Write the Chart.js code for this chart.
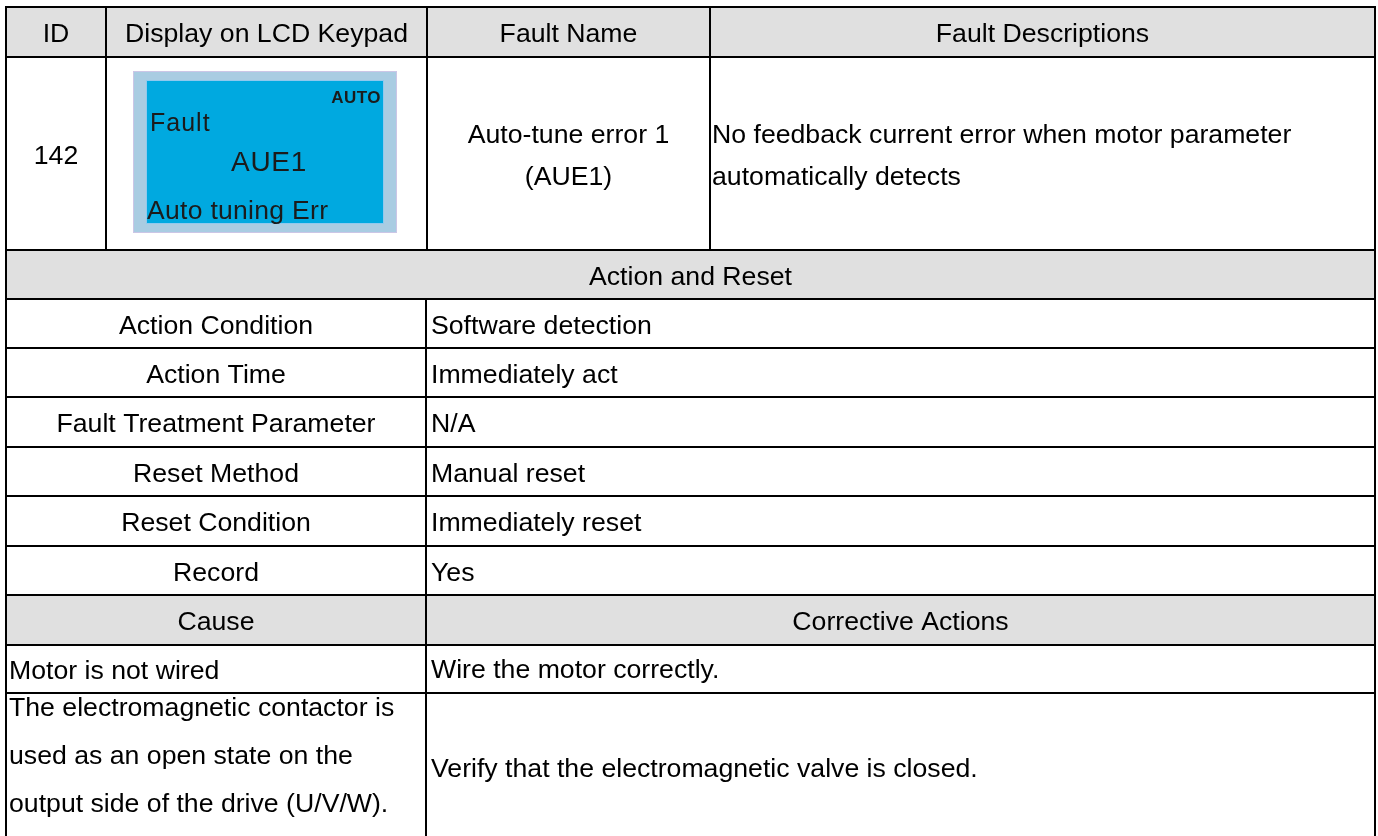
<!DOCTYPE html>
<html>
<head>
<meta charset="utf-8">
<title>AUE1 fault table</title>
<script src="https://cdn.jsdelivr.net/npm/chart.js@4"></script>
<style>
  html, body { margin: 0; padding: 0; background: #ffffff; }
  #wrap { width: 1378px; height: 836px; overflow: hidden; }
</style>
</head>
<body>
<div id="wrap"><canvas id="faultTable" width="1378" height="836"></canvas></div>
<script>
// Table content
const headers = ['ID', 'Display on LCD Keypad', 'Fault Name', 'Fault Descriptions'];
const faultId = '142';
const lcdLines = ['AUTO', 'Fault', 'AUE1', 'Auto tuning Err'];
const faultName = ['Auto-tune error 1', '(AUE1)'];
const faultDesc = ['No feedback current error when motor parameter', 'automatically detects'];
const sectionTitle = 'Action and Reset';
const actionLabels = ['Action Condition', 'Action Time', 'Fault Treatment Parameter', 'Reset Method', 'Reset Condition', 'Record'];
const actionValues = ['Software detection', 'Immediately act', 'N/A', 'Manual reset', 'Immediately reset', 'Yes'];
const causeHeaders = ['Cause', 'Corrective Actions'];
const causes = [
    ['Motor is not wired'],
    ['The electromagnetic contactor is', 'used as an open state on the', 'output side of the drive (U/V/W).']
];
const corrective = ['Wire the motor correctly.', 'Verify that the electromagnetic valve is closed.'];

// Layout (pixel grid of the page, mapped through the chart scales)
const topCols = [6, 106, 427, 710, 1375];
const lowCols = [6, 426, 1375];
const rowEdges = [7, 57, 250, 299, 348, 397, 447, 496, 546, 595, 645, 693, 842];
const lcdBox = { outer: [133, 71, 397, 233], inner: [146, 80, 384, 224] };

const FONT = '"Liberation Sans", Arial, Helvetica, sans-serif';
const GREY = '#e0e0e0';

const tablePlugin = {
    id: 'tableCells',
    afterDraw(chart) {
        const ctx = chart.ctx;
        const sx = chart.scales.x, sy = chart.scales.y;
        const X = v => sx.getPixelForValue(v);
        const Y = v => sy.getPixelForValue(v);
        const L = topCols[0], R = topCols[topCols.length - 1];
        const bottom = rowEdges[rowEdges.length - 1];

        // grey header bands
        ctx.fillStyle = GREY;
        [0, 2, 9].forEach(r => {
            ctx.fillRect(X(L), Y(rowEdges[r]), X(R) - X(L), Y(rowEdges[r + 1]) - Y(rowEdges[r]));
        });

        // LCD picture
        const o = lcdBox.outer, i = lcdBox.inner;
        ctx.fillStyle = '#a9cce2';
        ctx.fillRect(X(o[0]), Y(o[1]), X(o[2]) - X(o[0]), Y(o[3]) - Y(o[1]));
        ctx.strokeStyle = '#cbc6e6';
        ctx.lineWidth = 1;
        ctx.strokeRect(X(o[0]) + 0.5, Y(o[1]) + 0.5, X(o[2]) - X(o[0]) - 1, Y(o[3]) - Y(o[1]) - 1);
        ctx.fillStyle = '#00a9e0';
        ctx.fillRect(X(i[0]), Y(i[1]), X(i[2]) - X(i[0]), Y(i[3]) - Y(i[1]));
        ctx.strokeStyle = '#8fc9ee';
        ctx.strokeRect(X(i[0]) + 0.5, Y(i[1]) + 0.5, X(i[2]) - X(i[0]) - 1, Y(i[3]) - Y(i[1]) - 1);

        ctx.fillStyle = '#1b1b1b';
        ctx.textBaseline = 'alphabetic';
        ctx.textAlign = 'right';
        ctx.font = 'bold 17px ' + FONT;
        ctx.letterSpacing = '0.5px';
        ctx.fillText(lcdLines[0], X(381), Y(103));
        ctx.textAlign = 'left';
        ctx.font = '25px ' + FONT;
        ctx.letterSpacing = '1px';
        ctx.fillText(lcdLines[1], X(150), Y(131));
        ctx.font = '28px ' + FONT;
        ctx.letterSpacing = '0.7px';
        ctx.fillText(lcdLines[2], X(231), Y(171));
        ctx.font = '26.5px ' + FONT;
        ctx.letterSpacing = '0.3px';
        ctx.fillText(lcdLines[3], X(147), Y(219));
        ctx.letterSpacing = '0px';

        // grid lines
        ctx.strokeStyle = '#000000';
        ctx.lineWidth = 2;
        ctx.beginPath();
        rowEdges.forEach(r => { ctx.moveTo(X(L) - 1, Y(r)); ctx.lineTo(X(R) + 1, Y(r)); });
        [L, R].forEach(c => { ctx.moveTo(X(c), Y(rowEdges[0])); ctx.lineTo(X(c), Y(bottom)); });
        topCols.slice(1, -1).forEach(c => { ctx.moveTo(X(c), Y(rowEdges[0])); ctx.lineTo(X(c), Y(rowEdges[2])); });
        ctx.moveTo(X(lowCols[1]), Y(rowEdges[3])); ctx.lineTo(X(lowCols[1]), Y(bottom));
        ctx.stroke();

        // texts
        ctx.fillStyle = '#000000';
        ctx.font = '26.67px ' + FONT;
        const mid = (a, b) => (a + b) / 2;
        const centre = (txt, x0, x1, yb) => { ctx.textAlign = 'center'; ctx.fillText(txt, X(mid(x0, x1)), Y(yb)); };
        const left = (txt, x, yb) => { ctx.textAlign = 'left'; ctx.fillText(txt, X(x), Y(yb)); };
        const baseOf = r => mid(rowEdges[r], rowEdges[r + 1]) + 10;

        headers.forEach((h, k) => centre(h, topCols[k], topCols[k + 1], baseOf(0)));
        centre(faultId, topCols[0], topCols[1], baseOf(1));
        faultName.forEach((t, k) => centre(t, topCols[2], topCols[3], baseOf(1) - 21 + k * 42));
        faultDesc.forEach((t, k) => left(t, topCols[3] + 2, baseOf(1) - 21 + k * 42));
        centre(sectionTitle, L, R, baseOf(2));
        actionLabels.forEach((t, k) => {
            centre(t, lowCols[0], lowCols[1], baseOf(3 + k));
            left(actionValues[k], lowCols[1] + 5, baseOf(3 + k));
        });
        causeHeaders.forEach((h, k) => centre(h, lowCols[k], lowCols[k + 1], baseOf(9)));
        causes.forEach((lines, k) => {
            const r = 10 + k;
            const first = lines.length === 1 ? baseOf(r) : rowEdges[r] + 23;
            lines.forEach((t, j) => left(t, lowCols[0] + 3, first + j * 48));
            left(corrective[k], lowCols[1] + 5, baseOf(r) - 1);
        });
    }
};

new Chart(document.getElementById('faultTable'), {
    type: 'scatter',
    data: { datasets: [] },
    options: {
        responsive: false,
        animation: false,
        layout: { padding: 0 },
        plugins: { legend: { display: false }, tooltip: { enabled: false } },
        scales: {
            x: { type: 'linear', min: 0, max: 1378, display: false },
            y: { type: 'linear', min: 0, max: 836, reverse: true, display: false }
        }
    },
    plugins: [tablePlugin]
});
</script>
</body>
</html>
